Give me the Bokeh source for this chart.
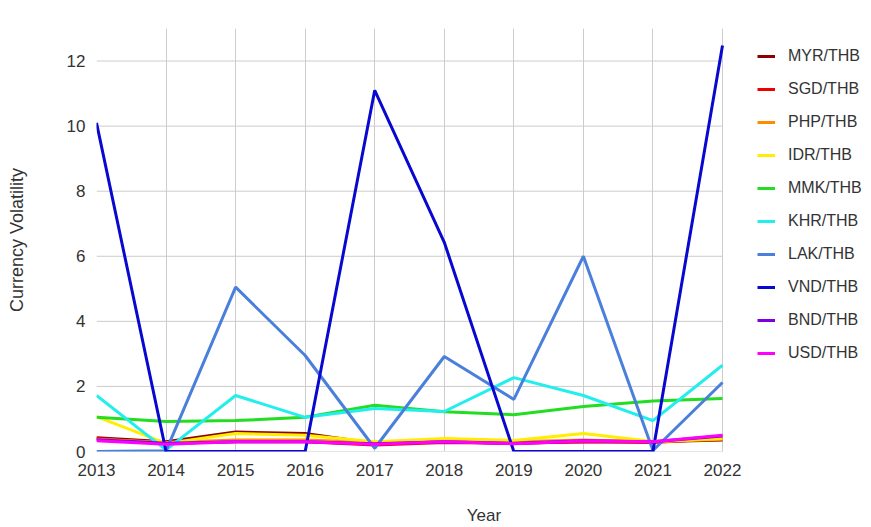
from bokeh.plotting import figure
from bokeh.models import Legend, LegendItem, FixedTicker, Range1d
from bokeh.embed import file_html
from bokeh.resources import INLINE

years = [2013, 2014, 2015, 2016, 2017, 2018, 2019, 2020, 2021, 2022]
series_names = ["MYR/THB", "SGD/THB", "PHP/THB", "IDR/THB", "MMK/THB",
                "KHR/THB", "LAK/THB", "VND/THB", "BND/THB", "USD/THB"]
MYR = [0.42, 0.30, 0.60, 0.55, 0.25, 0.30, 0.25, 0.30, 0.30, 0.35]
SGD = [0.40, 0.25, 0.30, 0.30, 0.20, 0.28, 0.25, 0.30, 0.28, 0.40]
PHP = [0.38, 0.28, 0.35, 0.35, 0.28, 0.35, 0.30, 0.35, 0.30, 0.38]
IDR = [1.07, 0.25, 0.55, 0.50, 0.30, 0.40, 0.34, 0.55, 0.31, 0.40]
MMK = [1.05, 0.92, 0.95, 1.05, 1.42, 1.22, 1.13, 1.38, 1.55, 1.63]
KHR = [1.72, 0.05, 1.72, 1.05, 1.32, 1.23, 2.27, 1.72, 0.95, 2.65]
LAK = [0.00, 0.02, 5.05, 2.95, 0.10, 2.92, 1.60, 6.00, 0.03, 2.12]
VND = [10.10, 0.00, 0.00, 0.00, 11.10, 6.43, 0.00, 0.00, 0.00, 12.48]
BND = [0.36, 0.25, 0.30, 0.30, 0.24, 0.30, 0.25, 0.33, 0.30, 0.48]
USD = [0.33, 0.22, 0.30, 0.30, 0.22, 0.30, 0.24, 0.32, 0.30, 0.50]
y_ticks = [0, 2, 4, 6, 8, 10, 12]

series_values = [MYR, SGD, PHP, IDR, MMK, KHR, LAK, VND, BND, USD]
colors = ["#8b0000", "#ee0000", "#ff8c00", "#ffee00", "#22dd22",
          "#22eeee", "#4a7fdc", "#0808d0", "#7f00df", "#ff00ff"]

FONT = "Liberation Sans"
TXT = "#333333"

# layout in pixels: plot area from x=96 (2013) to x=722 (2022); the frame
# continues to the right edge so the legend can sit inside it.
W, H = 871, 527
LEFT, PLOT_RIGHT, TOP, BOTTOM = 96, 722, 28, 76
px_per_year = (PLOT_RIGHT - LEFT) / (years[-1] - years[0])
x_end = years[0] + (W - LEFT) / px_per_year

p = figure(width=W, height=H, output_backend="svg", toolbar_location=None,
           x_range=Range1d(years[0], x_end), y_range=Range1d(0, 13),
           min_border_left=LEFT, min_border_right=0, min_border_top=TOP,
           min_border_bottom=BOTTOM)
p.outline_line_color = None
p.background_fill_color = "white"
p.border_fill_color = "white"

# horizontal grid lines, limited to the years span
p.ygrid.grid_line_color = None
p.segment(x0=[years[0]] * len(y_ticks), x1=[years[-1]] * len(y_ticks),
          y0=y_ticks, y1=y_ticks, line_color="#cccccc", line_width=1)
p.xgrid.ticker = FixedTicker(ticks=years)
p.xgrid.grid_line_color = "#cccccc"
p.xgrid.grid_line_width = 1

items = []
for name, vals, col in zip(series_names, series_values, colors):
    r = p.line(years, vals, line_color=col, line_width=3)
    items.append(LegendItem(label=name, renderers=[r]))

p.xaxis.ticker = FixedTicker(ticks=years)
p.yaxis.ticker = FixedTicker(ticks=y_ticks)
# limit axes to the plotted span so their labels are centred on it
p.xaxis.bounds = (years[0], years[-1])
p.yaxis.bounds = (y_ticks[0], y_ticks[-1])
for ax in (p.xaxis, p.yaxis):
    ax.axis_line_color = None
    ax.major_tick_line_color = None
    ax.minor_tick_line_color = None
    ax.major_label_text_font = FONT
    ax.major_label_text_font_size = "17px"
    ax.major_label_text_color = TXT
    ax.axis_label_text_font = FONT
    ax.axis_label_text_font_style = "normal"
    ax.axis_label_text_color = TXT
p.xaxis.axis_label = "Year"
p.yaxis.axis_label = "Currency Volatility"
p.xaxis.axis_label_text_font_size = "17px"
p.yaxis.axis_label_text_font_size = "18px"
p.xaxis.major_label_standoff = 6
p.xaxis.axis_label_standoff = 27
p.yaxis.major_label_standoff = 5
p.yaxis.axis_label_standoff = 37

legend = Legend(items=items, location=(661, 88), orientation="vertical",
                glyph_width=18, glyph_height=20, label_height=20,
                label_standoff=13, spacing=13, padding=0, margin=0,
                border_line_color=None, background_fill_alpha=0,
                label_text_font=FONT, label_text_font_size="16px",
                label_text_color=TXT)
p.add_layout(legend, "center")

open("out.html", "w").write(file_html(p, INLINE))
